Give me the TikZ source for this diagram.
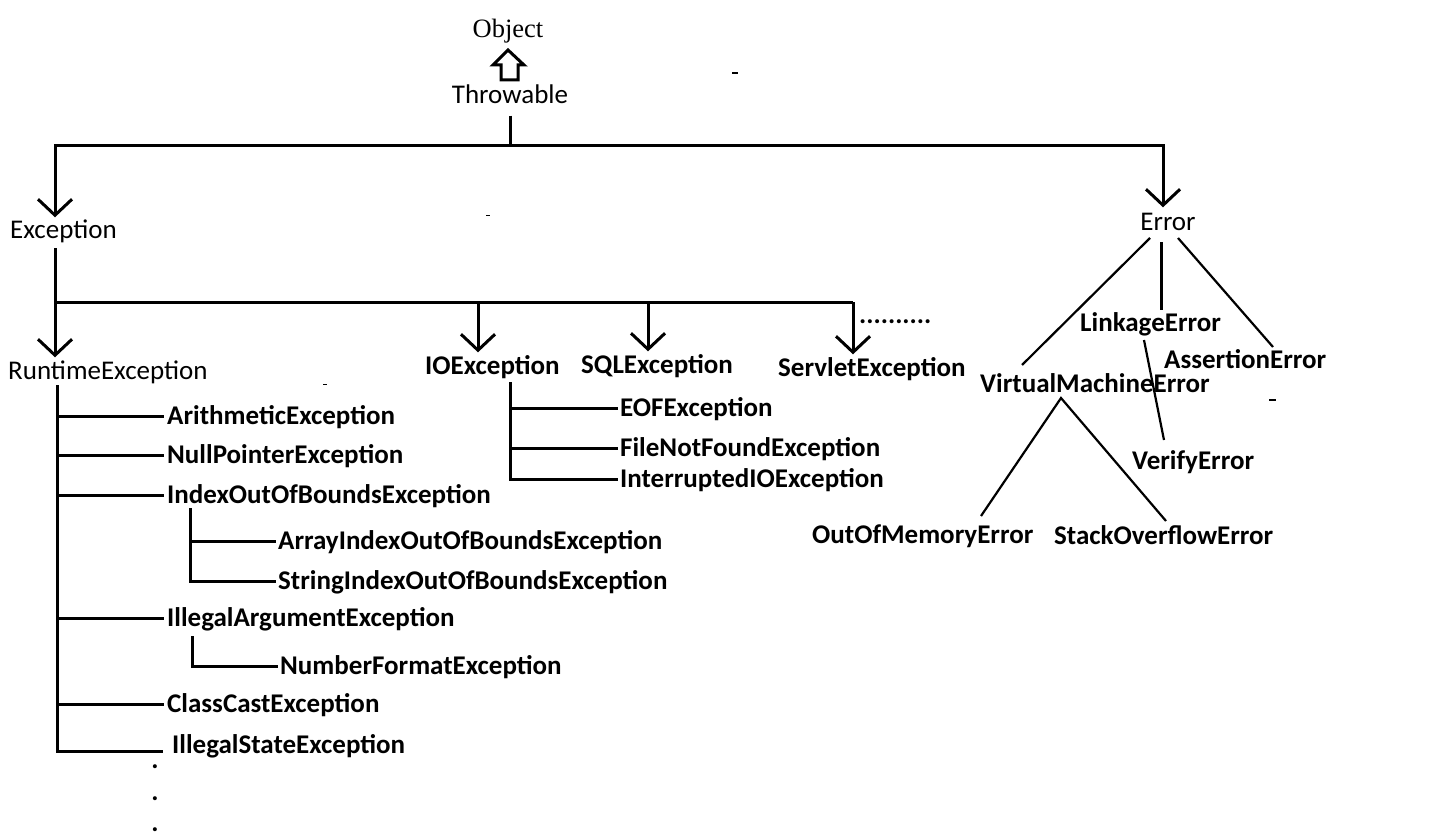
\documentclass[tikz,border=0pt]{standalone}
\usepackage{fontspec}
\setmainfont{Carlito}
\newfontfamily\objfont{Liberation Serif}
\usetikzlibrary{arrows.meta}
\begin{document}
\begin{tikzpicture}[x=1pt,y=-1pt,
  lbl/.style={inner sep=0pt,font=\fontsize{27}{29}\selectfont\bfseries,text height=17pt,text depth=0pt,anchor=west},
  rlbl/.style={lbl,font=\fontsize{27}{29}\selectfont},
  conn/.style={line width=3pt},
  thin/.style={line width=2.2pt},
  arr/.style={conn,-{Straight Barb[length=16pt,width=34pt]}},
  dotlbl/.style={inner sep=0pt,font=\fontsize{27}{29}\selectfont\bfseries}]
\useasboundingbox (0,0) rectangle (1440,840);
\fill[white] (0,0) rectangle (1440,840);
% top
\node[inner sep=0pt,font=\fontsize{26.5}{28}\selectfont\objfont] (obj) at (508,31) {Object};
\node[rlbl,anchor=center] (thr) at (510,95) {Throwable};
\draw[conn,line join=miter] (508,50) -- (524,65) -- (518,65) -- (518,80) -- (501,80) -- (501,65) -- (493,65) -- cycle;
\node[rlbl] (exc) at (10,230) {Exception};
\node[rlbl,anchor=center] (err) at (1168,222) {Error};
\coordinate (tj) at (510,146);
\coordinate (tl) at (55,146);
\coordinate (tr) at (1163,146);
\draw[conn] (tj |- thr.south) ++(0,12) -- (tj);
\draw[arr] (tj) -- (tl) -- ([yshift=4pt]exc.north -| tl);
\draw[arr] (tj) -- (tr) -- ([yshift=6pt]err.north -| tr);
% exception level
\node[rlbl] (rt) at (8,371) {RuntimeException};
\node[lbl] (io) at (425,366) {IOException};
\node[lbl] (sql) at (581,365) {SQLException};
\node[lbl] (srv) at (778,368) {ServletException};
\node[dotlbl,anchor=base west] (more) at (859,323) {..........};
\coordinate (ej) at (55,302);
\coordinate (ej2) at (853,302);
\draw[conn] (55,248) -- (ej);
\draw[arr] (ej) -- ([yshift=5pt]rt.north -| ej);
\draw[conn] (ej) -- (ej2);
\draw[arr] (ej -| 478,0) -- ([yshift=5pt]io.north -| 478,0);
\draw[arr] (ej -| 648,0) -- ([yshift=5pt]sql.north -| 648,0);
\draw[arr] (ej2) -- ([yshift=5pt]srv.north -| ej2);
% runtime subtree
\node[lbl] (ae) at (167,416) {ArithmeticException};
\node[lbl] (npe) at (167,455) {NullPointerException};
\node[lbl] (ioobe) at (167,495) {IndexOutOfBoundsException};
\node[lbl] (aioobe) at (278,541) {ArrayIndexOutOfBoundsException};
\node[lbl] (sioobe) at (278,581) {StringIndexOutOfBoundsException};
\node[lbl] (iae) at (167,618) {IllegalArgumentException};
\node[lbl] (nfe) at (280,666) {NumberFormatException};
\node[lbl] (cce) at (167,704) {ClassCastException};
\node[lbl] (ise) at (172,745) {IllegalStateException};
\coordinate (rv1) at (57,385);
\coordinate (rv2) at (57,751);
\draw[conn] (rv1) -- (rv2) -- (163,751);
\foreach \n in {ae,npe,ioobe,iae,cce}{
  \draw[conn] (\n.west -| rv1) -- ([xshift=-3pt]\n.west);
}
\coordinate (iv) at (190,508);
\draw[conn] (iv) -- (sioobe.west -| iv) -- ([xshift=-2pt]sioobe.west);
\draw[conn] (aioobe.west -| iv) -- ([xshift=-2pt]aioobe.west);
\coordinate (nv) at (192,636);
\draw[conn] (nv) -- (nfe.west -| nv) -- ([xshift=-2pt]nfe.west);
\node[dotlbl,anchor=base] (d1) at (155,768) {.};
\node[dotlbl,anchor=base] (d2) at (155,800) {.};
\node[dotlbl,anchor=base] (d3) at (155,831) {.};
% io subtree
\node[lbl] (eof) at (620,408) {EOFException};
\node[lbl] (fnf) at (620,448) {FileNotFoundException};
\node[lbl] (iio) at (620,479) {InterruptedIOException};
\coordinate (ov) at (510,382);
\draw[conn] (ov) -- (iio.west -| ov) -- ([xshift=-2pt]iio.west);
\draw[conn] (eof.west -| ov) -- ([xshift=-2pt]eof.west);
\draw[conn] (fnf.west -| ov) -- ([xshift=-2pt]fnf.west);
% error subtree
\node[lbl] (link) at (1080,323) {LinkageError};
\node[lbl] (asr) at (1164,360) {AssertionError};
\node[lbl] (vme) at (980,384) {VirtualMachineError};
\node[lbl] (ver) at (1132,461) {VerifyError};
\node[lbl] (oom) at (812,535) {OutOfMemoryError};
\node[lbl] (soe) at (1054,536) {StackOverflowError};
\coordinate (ea) at (1150,238);
\coordinate (eb) at (1161,242);
\coordinate (ec) at (1178,238);
\coordinate (vtop) at (1022,365);
\coordinate (ltop) at (1161,310);
\coordinate (atop) at (1273,347);
\draw[thin] (ea) -- (vtop);
\draw[conn] (eb) -- (ltop);
\draw[thin] (ec) -- (atop);
\coordinate (lb) at (1144,340);
\coordinate (vt) at (1164,440);
\draw[thin] (lb) -- (vt);
\coordinate (vb) at (1061,398);
\coordinate (ot) at (981,516);
\coordinate (st) at (1166,521);
\draw[thin] (ot) -- (vb) -- (st);
% small stray marks
\draw[line width=1.5pt] (732,73) -- (738,73);
\draw[line width=1.5pt] (1269,400) -- (1276,400);
\draw[line width=1pt] (486,215) -- (490,215);
\draw[line width=1pt] (323,384) -- (327,384);
\end{tikzpicture}
\end{document}
